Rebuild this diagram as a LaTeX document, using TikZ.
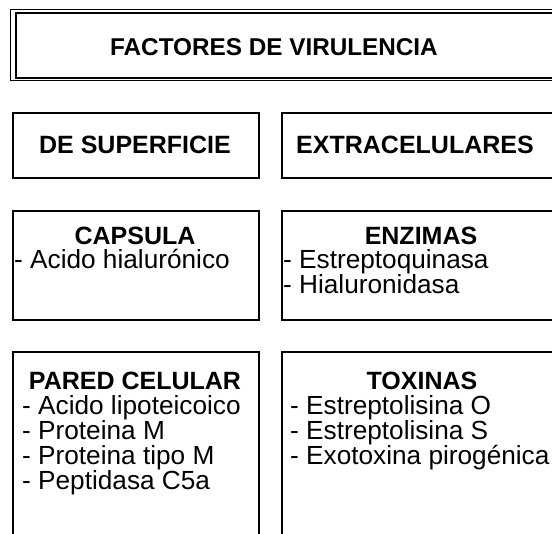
\documentclass[tikz,border=0pt]{standalone}
\usepackage{fontspec}
\setmainfont{Liberation Sans}
\usetikzlibrary{positioning}

\tikzset{
  caja/.style={draw, line width=1.6pt, anchor=north west, inner sep=0pt},
  cabeza/.style={font=\fontsize{25}{25}\selectfont\bfseries, anchor=base, inner sep=0pt},
  item/.style={font=\fontsize{26.2}{25}\selectfont, anchor=base west, inner sep=0pt},
}

\begin{document}
\begin{tikzpicture}[x=1pt,y=-1pt]
\useasboundingbox (0,0) rectangle (552,534);
\clip (0,0) rectangle (552,534);
% titulo con borde doble
\draw[line width=0.8pt] (10.5,9) rectangle (600,80.5);
\node[caja, line width=2pt, minimum width=600pt, minimum height=64.5pt] (marco) at (14.5,12.5) {};
\node[cabeza, font=\fontsize{24.3}{24}\selectfont\bfseries] (titulo) at (274,56) {FACTORES DE VIRULENCIA};
% segunda fila
\node[caja, minimum width=246pt, minimum height=65pt] (sup) at (12,112) {};
\node[caja, minimum width=300pt, minimum height=65pt] (extra) at (281,112) {};
\node[cabeza] (supT) at (135,154) {DE SUPERFICIE};
\node[cabeza] (extraT) at (415,154) {EXTRACELULARES};
% tercera fila
\node[caja, minimum width=246pt, minimum height=109pt] (capsula) at (12,210) {};
\node[caja, minimum width=300pt, minimum height=109pt] (enzimas) at (281,210) {};
\node[cabeza] (capsulaT) at (135,245) {CAPSULA};
\node[item] (capsula1) at (14,269) {- Acido hialurónico};
\node[cabeza] (enzimasT) at (421,245) {ENZIMAS};
\node[item] (enzimas1) at (283,269) {- Estreptoquinasa};
\node[item] (enzimas2) at (283,294) {- Hialuronidasa};
% cuarta fila
\node[caja, minimum width=246pt, minimum height=250pt] (pared) at (12,351) {};
\node[caja, minimum width=300pt, minimum height=250pt] (toxinas) at (281,351) {};
\node[cabeza] (paredT) at (135,390) {PARED CELULAR};
\foreach \t [count=\i] in {Acido lipoteicoico, Proteina M, Proteina tipo M, Peptidasa C5a}
  \node[item] (pared\i) at (22,390+25*\i) {- \t};
\node[cabeza] (toxinasT) at (422,390) {TOXINAS};
\foreach \t [count=\i] in {Estreptolisina O, Estreptolisina S, Exotoxina pirogénica}
  \node[item] (toxinas\i) at (290,390+25*\i) {- \t};
\end{tikzpicture}
\end{document}
